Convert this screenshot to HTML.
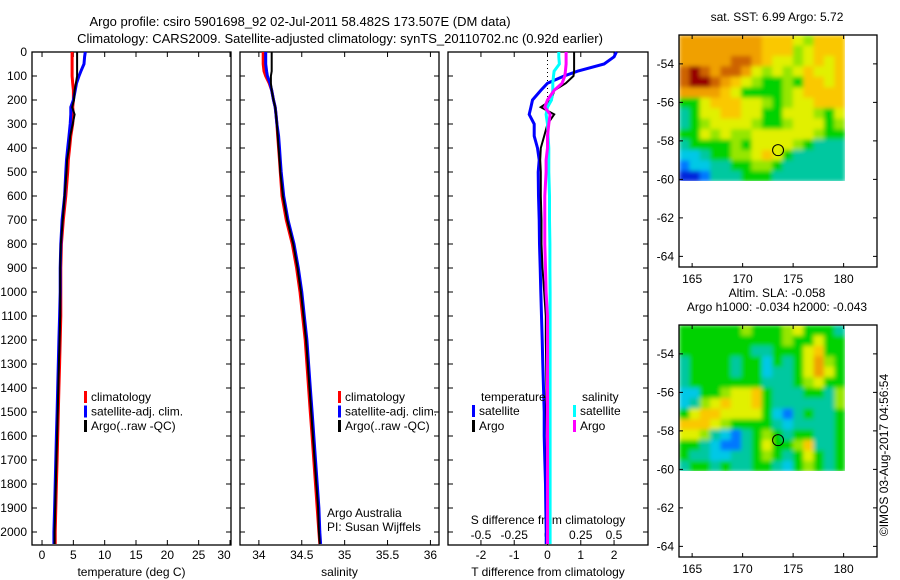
<!DOCTYPE html>
<html><head><meta charset="utf-8"><style>
body{margin:0;background:#fff}
svg{display:block;font-family:"Liberation Sans",sans-serif}
</style></head><body>
<svg id="c" width="900" height="580" viewBox="0 0 900 580">
<defs>
<filter id="blur" x="0" y="0" width="1" height="1"><feGaussianBlur stdDeviation="2" edgeMode="duplicate"/></filter>
<clipPath id="clipTop"><rect x="679" y="35" width="166" height="146"/></clipPath>
<clipPath id="clipBot"><rect x="679" y="325" width="166" height="146"/></clipPath>
</defs>
</svg>
<script>
// ---- data ----
const depthTicks=[0,100,200,300,400,500,600,700,800,900,1000,1100,1200,1300,1400,1500,1600,1700,1800,1900,2000];
const tTicks=[0,5,10,15,20,25,30];
const sTicks=[34,34.5,35,35.5,36];
const dTicks=[-2,-1,0,1,2];
const dsTicks=[-0.5,-0.25,0,0.25,0.5];
const dsTickLabels=["-0.5","-0.25","0","0.25","0.5"];
const depths=[0,20,50,80,100,130,160,200,230,260,300,350,400,450,500,600,700,800,900,1000,1100,1200,1300,1400,1500,1600,1700,1800,1900,2000,2050];
const tClim=[4.8,4.8,4.8,4.8,4.8,4.9,5.0,5.0,4.9,5.0,4.9,4.6,4.4,4.2,4.1,3.8,3.4,3.1,3.0,3.0,3.0,2.9,2.8,2.7,2.6,2.5,2.4,2.3,2.2,2.1,2.1];
const tSat=[6.9,6.8,6.7,6.2,5.9,5.5,5.3,5.0,4.6,4.6,4.5,4.3,4.1,3.9,3.8,3.6,3.2,3.0,2.9,2.9,2.8,2.7,2.6,2.5,2.4,2.3,2.2,2.1,2.0,1.9,1.9];
const tArgo=[5.6,5.6,5.6,5.6,5.6,5.4,5.2,5.1,4.8,5.2,4.9,4.5,4.3,4.0,3.9,3.6,3.3,3.0,2.9,2.9,2.9,2.8,2.7,2.6,2.5,2.4,2.3,2.2,2.1,2.0,2.0];
const sClim=[34.05,34.05,34.05,34.06,34.08,34.12,34.15,34.17,34.19,34.2,34.21,34.22,34.23,34.24,34.25,34.27,34.32,34.39,34.44,34.48,34.51,34.54,34.56,34.58,34.6,34.62,34.64,34.66,34.68,34.70,34.71];
const sSat=[34.08,34.08,34.08,34.09,34.1,34.13,34.15,34.17,34.19,34.2,34.21,34.23,34.24,34.25,34.26,34.29,34.34,34.41,34.46,34.5,34.53,34.56,34.58,34.6,34.62,34.64,34.66,34.68,34.7,34.71,34.72];
const sArgo=[34.15,34.15,34.15,34.15,34.14,34.14,34.15,34.17,34.19,34.2,34.21,34.22,34.23,34.24,34.25,34.28,34.33,34.4,34.45,34.49,34.52,34.55,34.57,34.59,34.61,34.63,34.65,34.67,34.69,34.7,34.71];
const dTSat=[2.07,2.0,1.7,0.9,0.5,0.0,-0.2,-0.45,-0.5,-0.55,-0.4,-0.4,-0.3,-0.25,-0.28,-0.27,-0.25,-0.24,-0.22,-0.2,-0.18,-0.16,-0.14,-0.12,-0.1,-0.1,-0.08,-0.06,-0.05,-0.04,-0.04];
const dTArgo=[0.8,0.8,0.8,0.8,0.78,0.55,0.2,0.12,-0.2,0.2,0.0,-0.1,-0.2,-0.22,-0.2,-0.2,-0.18,-0.18,-0.15,-0.1,-0.05,-0.05,-0.04,-0.03,-0.03,-0.02,-0.02,-0.01,0.0,0.0,0.0];
const dSSat=[0.085,0.085,0.09,0.05,0.045,0.04,0.04,0.03,0.0,-0.01,0.0,0.005,0.01,0.01,0.01,0.015,0.015,0.018,0.018,0.02,0.02,0.02,0.02,0.02,0.02,0.02,0.02,0.02,0.02,0.02,0.02];
const dSArgo=[0.14,0.14,0.14,0.135,0.13,0.11,0.05,0.0,-0.02,0.02,0.01,0.0,0.0,-0.01,-0.01,-0.02,-0.02,-0.02,-0.015,-0.01,0.0,0.0,0.0,0.0,0.0,0.0,0.0,0.0,0.0,0.0,0.0];
const lonTicks=[165,170,175,180];
const latTicks=[-54,-56,-58,-60,-62,-64];
const argoLon=173.507, argoLat=-58.482;
const sstGrid=[
[9,9,9,9,9,9,9,9,8,8,8,7,6,8,8,8],
[9,9,9,9,9,9,9,9,8,8,8,6,7,8,8,8],
[9,9,9,9,9,10,10,9,8,7,7,6,7,8,7,8],
[10,11,10,9,10,10,9,7,6,7,6,7,8,7,7,8],
[10,11,11,10,9,8,7,6,5,5,6,5,8,8,7,8],
[9,9,9,9,8,7,5,5,5,5,6,7,8,8,8,8],
[5,5,7,8,8,8,7,7,6,5,6,7,7,8,8,8],
[4,5,7,7,8,8,7,7,5,5,7,7,7,6,5,7],
[4,5,6,7,7,7,7,6,5,5,6,7,7,7,5,6],
[5,5,7,6,7,6,6,7,7,7,7,7,7,6,5,5],
[4,5,5,5,5,6,5,7,7,7,7,6,5,4,4,4],
[3,3,4,5,5,6,6,7,8,7,5,4,4,4,4,4],
[2,3,3,4,4,5,5,6,6,5,4,4,4,4,4,4],
[1,1,2,4,4,4,5,5,5,4,4,4,4,4,4,4]];
const slaGrid=[
[5,5,5,5,5,5,6,5,5,5,6,7,5,5,5,4],
[5,5,5,5,5,5,5,5,5,5,6,5,5,7,5,5],
[5,5,5,5,5,5,5,4,4,5,5,5,7,8,5,5],
[4,5,5,5,5,4,5,5,3,5,4,5,7,9,6,5],
[4,5,5,5,5,4,5,5,3,4,4,5,7,9,7,5],
[4,5,5,5,5,5,5,5,4,4,4,5,6,7,5,5],
[3,3,5,5,6,7,7,8,5,4,4,4,5,5,4,6],
[3,4,6,7,8,7,7,8,5,4,4,4,4,4,4,6],
[5,7,8,8,7,7,7,7,5,3,2,4,5,4,4,5],
[8,8,8,7,6,5,5,5,5,4,3,4,4,4,4,5],
[7,7,6,4,3,2,4,5,6,5,4,5,5,4,4,5],
[5,5,4,3,2,2,4,5,7,5,5,6,8,4,4,5],
[5,4,4,3,3,4,4,5,6,5,4,5,7,5,4,5],
[4,5,5,4,5,4,4,5,5,4,3,5,6,5,4,5]];

// ---- helpers ----
const svg=document.getElementById('c');
const NS='http://www.w3.org/2000/svg';
function mk(tag,attrs,parent){const e=document.createElementNS(NS,tag);for(const k in attrs)e.setAttribute(k,attrs[k]);(parent||svg).appendChild(e);return e;}
function txt(s,x,y,anchor,size,parent){const t=mk('text',{x:x,y:y,'text-anchor':anchor||'start','font-size':size||12,fill:'#000'},parent);t.textContent=s;return t;}
const TOP=52,BOT=545;
const yD=d=>TOP+d*0.24;
const panels=[{l:32,r:231,x0:-1.6,x1:30.16},{l:240,r:439,x0:33.78,x1:36.1},{l:448,r:648,x0:-2.99,x1:3.02}];
function sx(p,v){return p.l+(v-p.x0)/(p.x1-p.x0)*(p.r-p.l);}
const pS={l:448,r:648,x0:-0.748,x1:0.756}; // salinity diff axis

let t;
t=txt('Argo profile: csiro 5901698_92 02-Jul-2011 58.482S 173.507E (DM data)',300,26,'middle',13);

t=txt('Climatology: CARS2009. Satellite-adjusted climatology: synTS_20110702.nc (0.92d earlier)',340,43,'middle',13);


const names=['temperature-panel','salinity-panel','difference-panel'];
const xticksP=[tTicks,sTicks,dTicks];
const xtl=[tTicks.map(String),['34','34.5','35','35.5','36'],dTicks.map(String)];
const xtitles=['temperature (deg C)','salinity','T difference from climatology'];
panels.forEach((p,i)=>{
  const g=mk('g',{});
  
  
  mk('rect',{x:p.l,y:TOP,width:p.r-p.l,height:BOT-TOP,fill:'none',stroke:'#000','stroke-width':1.3},g);
  depthTicks.forEach(d=>{
    const y=yD(d);
    mk('line',{x1:p.l,x2:p.l+5,y1:y,y2:y,stroke:'#000'},g);
    mk('line',{x1:p.r-5,x2:p.r,y1:y,y2:y,stroke:'#000'},g);
    if(i===0){txt(String(d),27,y+4,'end',12,g);}
  });
  xticksP[i].forEach((v,k)=>{
    const x=sx(p,v);
    mk('line',{x1:x,x2:x,y1:TOP,y2:TOP+5,stroke:'#000'},g);
    mk('line',{x1:x,x2:x,y1:BOT-5,y2:BOT,stroke:'#000'},g);
    const lx=(i===0)?Math.min(x,224):x;
    txt(xtl[i][k],lx,559,'middle',12,g);
  });
  const xt=txt(xtitles[i],(p.l+p.r)/2,576,'middle',12,g);
  
  
});
dsTicks.forEach((v,k)=>{txt(dsTickLabels[k],sx(pS,v),539,'middle',12);});
t=txt('S difference from climatology',548,524,'middle',12);

mk('line',{x1:sx(panels[2],0),x2:sx(panels[2],0),y1:TOP,y2:110,stroke:'#000','stroke-dasharray':'1,3'});

function line(p,vals,color,w,name){
  const pts=depths.map((d,k)=>sx(p,vals[k]).toFixed(1)+','+yD(d).toFixed(1)).join(' ');
  const e=mk('polyline',{points:pts,fill:'none',stroke:color,'stroke-width':w,'stroke-linejoin':'miter'});
  
  
}
line(panels[0],tClim,'#f00',3,'temperature-climatology-line');
line(panels[0],tSat,'#00f',3,'temperature-satellite-line');
line(panels[0],tArgo,'#000',2,'temperature-argo-line');
line(panels[1],sClim,'#f00',3,'salinity-climatology-line');
line(panels[1],sSat,'#00f',3,'salinity-satellite-line');
line(panels[1],sArgo,'#000',2,'salinity-argo-line');
line(panels[2],dTSat,'#00f',3,'t-diff-satellite-line');
line(panels[2],dTArgo,'#000',2,'t-diff-argo-line');
line(pS,dSSat,'#0ff',3,'s-diff-satellite-line');
line(pS,dSArgo,'#f0f',3,'s-diff-argo-line');

function leg(x,y,color,label,name){
  const g=mk('g',{});
  
  
  mk('rect',{x:x,y:y-10,width:3,height:12,fill:color},g);
  txt(label,x+7,y,'start',12,g);
}
[['climatology','#f00'],['satellite-adj. clim.','#00f'],['Argo(..raw -QC)','#000']].forEach((a,k)=>leg(84,401+k*14.5,a[1],a[0],'temperature-legend-entry'));
[['climatology','#f00'],['satellite-adj. clim.','#00f'],['Argo(..raw -QC)','#000']].forEach((a,k)=>leg(338,401+k*14.5,a[1],a[0],'salinity-legend-entry'));
txt('temperature',481,401,'start',12);
txt('salinity',582,401,'start',12);
leg(472,415,'#00f','satellite','diff-legend-t-satellite');
leg(472,430,'#000','Argo','diff-legend-t-argo');
leg(573,415,'#0ff','satellite','diff-legend-s-satellite');
leg(573,430,'#f0f','Argo','diff-legend-s-argo');
txt('Argo Australia',327,517,'start',12);
txt('PI: Susan Wijffels',327,531,'start',12);

function cmap(v){
  const stops=[[0,[0,0,170]],[1,[0,40,220]],[2,[0,120,255]],[3,[0,200,230]],[4,[0,200,160]],[5,[0,210,0]],[6,[150,230,0]],[7,[225,240,0]],[8,[250,200,0]],[9,[240,160,0]],[10,[205,100,0]],[11,[150,0,0]]];
  for(let i=0;i<stops.length-1;i++){if(v<=stops[i+1][0]){const a=stops[i],b=stops[i+1],f=(v-a[0])/(b[0]-a[0]);return 'rgb('+a[1].map((c,j)=>Math.round(c+(b[1][j]-c)*f)).join(',')+')';}}
  return 'rgb(150,0,0)';
}
function drawMap(oy,grid,name,titles,clip){
  const g=mk('g',{});
  
  
  const L=679,R=877,T=oy,B=oy+232;
  const mx=lon=>L+(lon-163.7)*10.1;
  const my=lat=>T+(-52.5-lat)*19.25;
  const lonA=163.7,lonB=180.1,latA=-52.5,latB=-60.1;
  const nr=grid.length,nc=grid[0].length;
  const dl=(lonB-lonA)/nc,dt=(latA-latB)/nr;
  const cg=mk('g',{'clip-path':'url(#'+clip+')'},g);
  const fg=mk('g',{filter:'url(#blur)'},cg);
  grid.forEach((row,r)=>row.forEach((v,c)=>{
    const cell=mk('rect',{x:mx(lonA+c*dl).toFixed(1),y:my(latA-r*dt).toFixed(1),width:(dl*10.1+0.6).toFixed(1),height:(dt*19.25+0.6).toFixed(1),fill:cmap(v)},fg);
    
    
  }));
  mk('rect',{x:L,y:T,width:R-L,height:B-T,fill:'none',stroke:'#000','stroke-width':1.3},g);
  lonTicks.forEach(l=>{const x=mx(l);mk('line',{x1:x,x2:x,y1:T,y2:T+4,stroke:'#000'},g);mk('line',{x1:x,x2:x,y1:B-4,y2:B,stroke:'#000'},g);txt(String(l),x,B+16,'middle',12,g);});
  latTicks.forEach(l=>{const y=my(l);mk('line',{x1:L,x2:L+4,y1:y,y2:y,stroke:'#000'},g);mk('line',{x1:R-4,x2:R,y1:y,y2:y,stroke:'#000'},g);txt(String(l),674,y+4,'end',12,g);});
  const c=mk('circle',{cx:mx(argoLon),cy:my(argoLat),r:5.5,fill:'none',stroke:'#000','stroke-width':1},g);
  
  
  titles.forEach((s,k)=>txt(s,777,oy-14+k*14-(titles.length-1)*14,'middle',12));
}
drawMap(35,sstGrid,'sst-map',['sat. SST: 6.99 Argo: 5.72'],'clipTop');
drawMap(325,slaGrid,'sla-map',['Altim. SLA: -0.058','Argo h1000: -0.034 h2000: -0.043'],'clipBot');
t=txt('©IMOS 03-Aug-2017 04:56:54',0,0,'middle',12);
t.setAttribute('transform','translate(888,455) rotate(-90)');

</script>
</body></html>
